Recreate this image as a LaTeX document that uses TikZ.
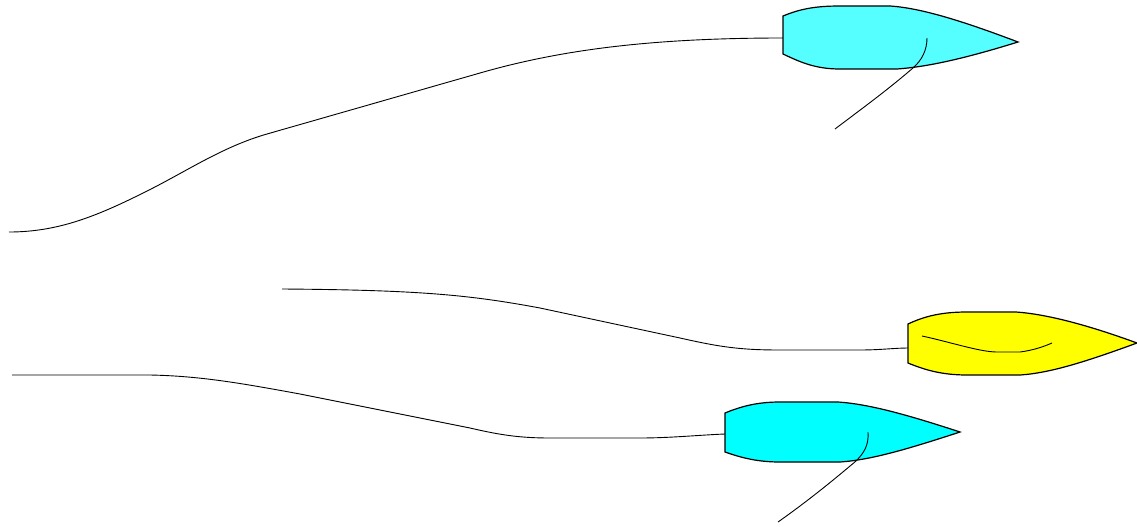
\documentclass[tikz,border=0pt]{standalone}
\usetikzlibrary{calc}
\definecolor{skycyan}{RGB}{85,255,255}
\definecolor{aqua}{RGB}{0,255,255}
\definecolor{sunyellow}{RGB}{255,255,0}
\tikzset{
  hull/.style={draw=black, line width=1.2pt, line join=miter},
  wake/.style={draw=black, line width=0.9pt},
  boom/.style={draw=black, line width=0.9pt}
}
\begin{document}
\begin{tikzpicture}[x=1pt,y=-1pt]
\useasboundingbox (0,0) rectangle (1137,527);

% stern attachment points
\coordinate (sternA) at (783,38);
\coordinate (sternB) at (908,348);
\coordinate (sternC) at (725,434);

% wakes
\draw[wake] (9,232) .. controls (60,232) and (100,215) .. (153,188)
  .. controls (190,169) and (225,146) .. (267,134) -- (480,73)
  .. controls (560,50) and (650,38) .. (sternA);
\draw[wake] (282,289) .. controls (420,290) and (470,295) .. (540,308) -- (680,338)
  .. controls (720,347) and (740,350) .. (780,350) -- (860,350)
  .. controls (880,350) and (895,348) .. (sternB);
\draw[wake] (12,375) -- (150,375) .. controls (200,376) and (240,383) .. (300,394) -- (470,428)
  .. controls (500,435) and (520,438) .. (550,438) -- (640,438)
  .. controls (670,438) and (700,435) .. (sternC);

% upper boat
\draw[hull, fill=skycyan] (783,16) .. controls (800,9) and (815,6) .. (840,6) -- (890,6)
  .. controls (920,8) and (960,20) .. (1018,42)
  .. controls (960,60) and (925,67) .. (897,69) -- (840,69)
  .. controls (815,69) and (800,62) .. (783,54) -- cycle;
\draw[boom] (927,38) .. controls (927,50) and (922,60) .. (913,68)
  .. controls (885,92) and (860,110) .. (835,129);

% yellow boat
\draw[hull, fill=sunyellow] (908,324) .. controls (925,316) and (942,312) .. (967,312) -- (1016,312)
  .. controls (1045,314) and (1085,324) .. (1137,343)
  .. controls (1085,362) and (1050,373) .. (1020,375) -- (967,375)
  .. controls (942,375) and (925,370) .. (908,363) -- cycle;
\draw[boom] (922,336) .. controls (950,342) and (980,352) .. (997,352) -- (1020,352)
  .. controls (1035,350) and (1045,346) .. (1052,343);

% lower boat
\draw[hull, fill=aqua] (725,413) .. controls (742,406) and (758,402) .. (780,402) -- (838,402)
  .. controls (868,404) and (905,414) .. (960,432)
  .. controls (905,450) and (870,460) .. (840,462) -- (780,462)
  .. controls (758,462) and (742,458) .. (725,452) -- cycle;
\draw[boom] (868,432) .. controls (869,445) and (864,453) .. (856,461)
  .. controls (830,483) and (805,503) .. (778,522);
\end{tikzpicture}
\end{document}
